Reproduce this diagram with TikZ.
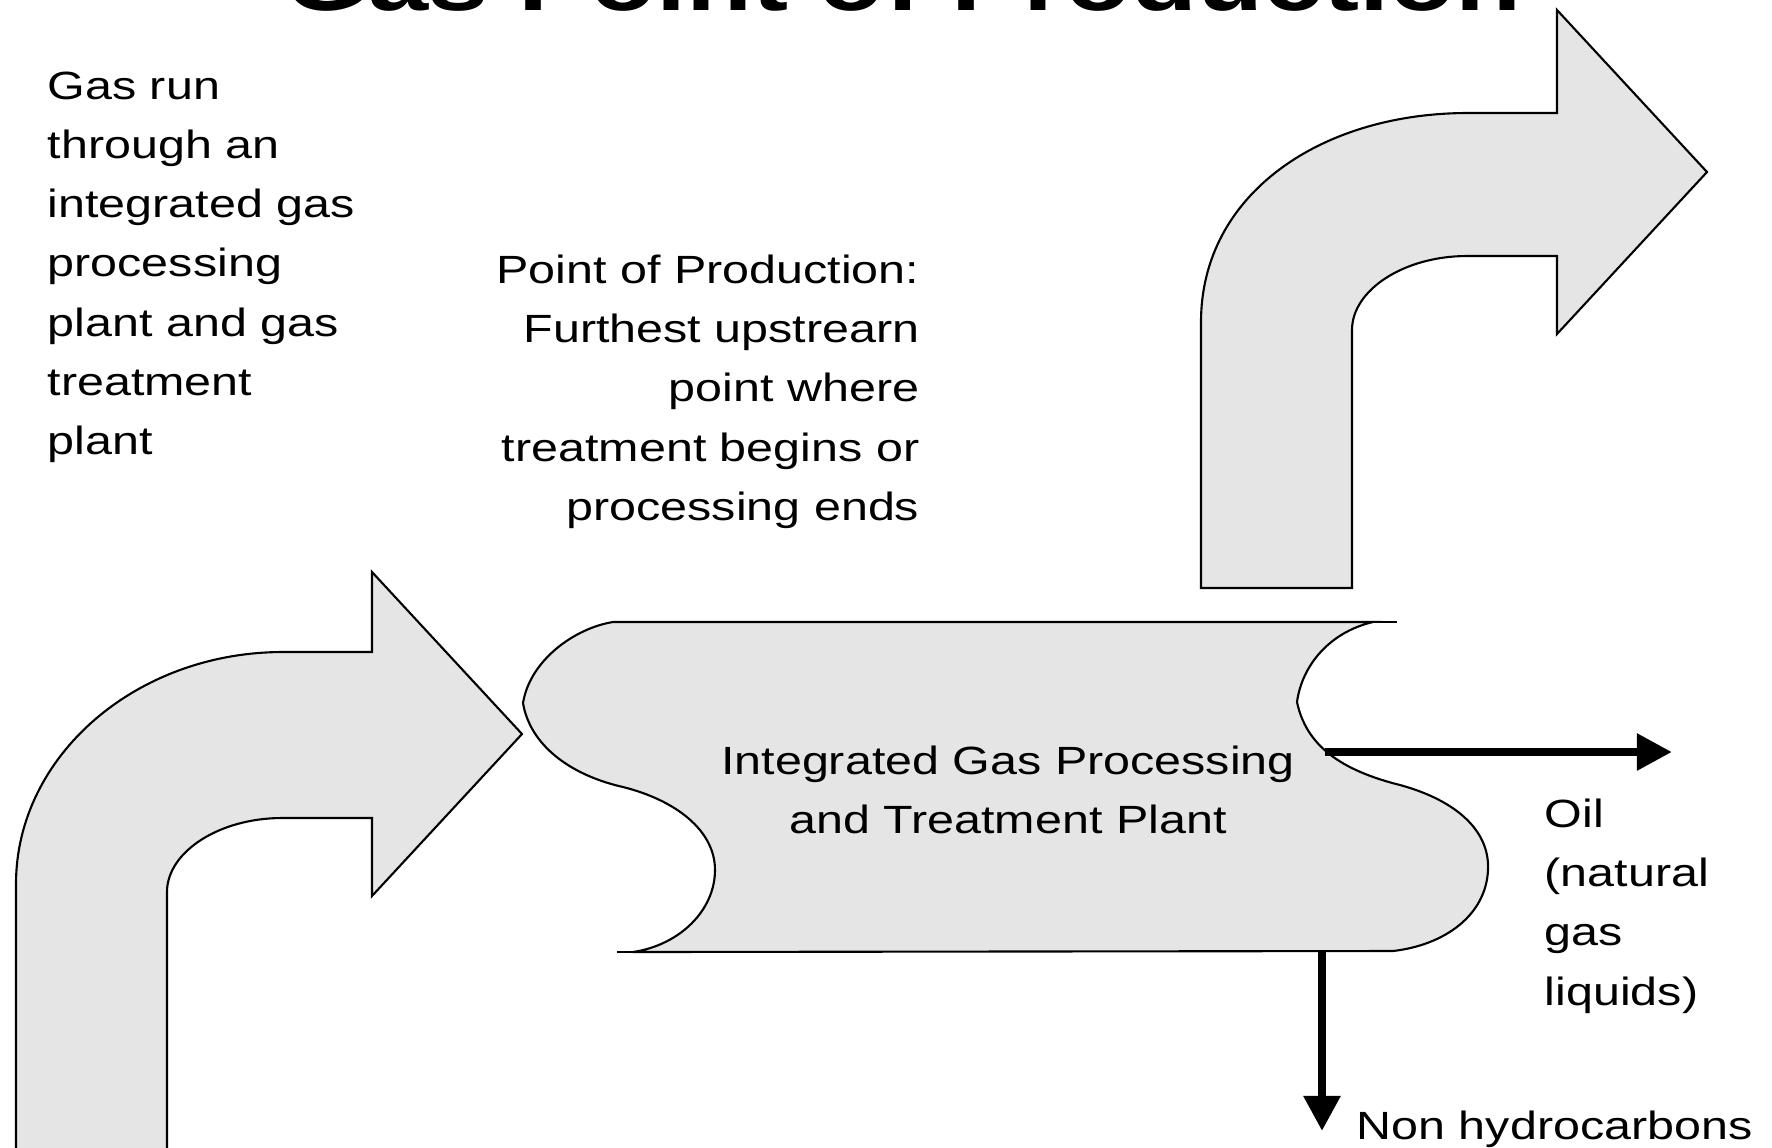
\documentclass[tikz,border=0pt]{standalone}
\usepackage{fontspec}
\setmainfont{Liberation Sans}[FakeStretch=1.23]
\usetikzlibrary{arrows.meta}
\tikzset{%
  grayfill/.style = {fill=black!10, draw=black, line width=0.6pt},%
  note/.style     = {inner sep=0pt, font=\fontsize{11.2pt}{16.8pt}\selectfont},%
  flow/.style     = {line width=2.4pt, -{Triangle[length=10pt,width=10pt]}},%
  pics/bentarrow/.style 2 args = {code={\path[grayfill] (-506,#1) -- (-506,150)
      .. controls (-506,22) and (-386,#2) .. (-239,#2) -- (-150,#2) -- (-150,-162)
      -- (0,0) -- (-150,162) -- (-150,84) -- (-240,84)
      .. controls (-303,84) and (-355,118) .. (-355,158) -- (-355,#1) -- cycle;}}%
}
\begin{document}
\begin{tikzpicture}[x=0.01cm,y=-0.01cm,line join=miter]
		\useasboundingbox (0,0) rectangle (1772,1147);
		\clip (0,0) rectangle (1772,1147);
		\node[anchor=base, font=\fontsize{25pt}{30pt}\selectfont\bfseries] (title) at (903,10) {Gas Point of Production};
		\pic at (522,734) {bentarrow={430}{-82}};
		\pic at (1707,172) {bentarrow={416}{-59}};
		\path[grayfill] (613,622) -- (1373,622)
			.. controls (1330,632) and (1302,665) .. (1297,702)
			.. controls (1306,745) and (1340,770) .. (1400,785)
			.. controls (1455,800) and (1490,830) .. (1488,870)
			.. controls (1486,915) and (1445,945) .. (1393,951) -- (633,952)
			.. controls (680,945) and (715,910) .. (715,870)
			.. controls (715,830) and (675,800) .. (623,787)
			.. controls (570,775) and (530,745) .. (523,703)
			.. controls (530,660) and (575,628) .. (613,622) -- cycle;
		\draw[line width=0.6pt] (1373,622) -- (1397,622) (617,952) -- (633,952);
		\coordinate (oilout) at (1325,752);
		\coordinate (oilend) at (1672,752);
		\coordinate (hcout) at (1322,952);
		\coordinate (hcend) at (1322,1131);
		\draw[flow] (oilout) -- (oilend);
		\draw[flow] (hcout) -- (hcend);
		\node[note, anchor=north west, align=left] (gasrun) at (47,71.5)
			{Gas run\\through an\\integrated gas\\processing\\plant and gas\\treatment\\plant};
		\node[note, anchor=north east, align=right] (pop) at (920,254.5)
			{Point of Production:\\Furthest upstrearn\\point where\\treatment begins or\\processing ends};
		\node[note, anchor=north, align=center] (plant) at (1008,745.5)
			{Integrated Gas Processing\\and Treatment Plant};
		\node[note, anchor=north west, align=left] (oil) at (1544,798.5)
			{Oil\\(natural\\gas\\liquids)};
		\node[note, anchor=base west] (nonhc) at (1356,1139) {Non hydrocarbons};
	\end{tikzpicture}
\end{document}
